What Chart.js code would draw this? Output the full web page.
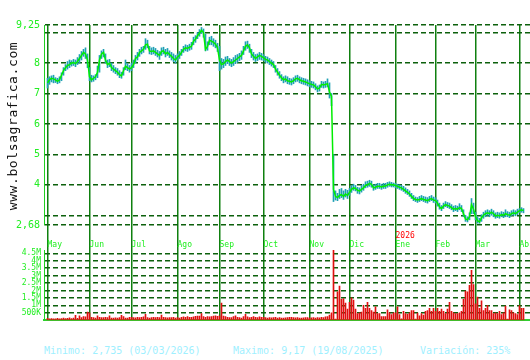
<!DOCTYPE html>
<html>
<head>
<meta charset="utf-8">
<script src="https://cdn.jsdelivr.net/npm/chart.js@4.4.1/dist/chart.umd.min.js"></script>
<style>
  body { margin: 0; background: #fff; }
  #wrap { position: relative; width: 530px; height: 360px; overflow: hidden; font-family: 'DejaVu Sans Mono', monospace; }
  canvas { position: absolute; left: 0; }
  #price { top: 0; }
  #volume { top: 240px; }
  #site { position: absolute; left: -73px; top: 118px; width: 172px; height: 16px; line-height: 16px;
          text-align: center; font-size: 13px; letter-spacing: 0.6px; color: #111;
          transform: rotate(-90deg); white-space: nowrap; }
  .foot { position: absolute; top: 345px; font-size: 10px; color: #9ff0ff; white-space: nowrap; }
</style>
</head>
<body>
<div id="wrap">
  <canvas id="price" width="530" height="250"></canvas>
  <canvas id="volume" width="530" height="88"></canvas>
  <div id="site">www.bolsagrafica.com</div>
  <div class="foot" style="left:44px">Minimo: 2,735 (03/03/2026)</div>
  <div class="foot" style="left:233px">Maximo: 9,17 (19/08/2025)</div>
  <div class="foot" style="left:420px">Variación: 235%</div>
</div>
<script>
// month names and the index of the first session of each month
const monthNames = ['May', 'Jun', 'Jul', 'Ago', 'Sep', 'Oct', 'Nov', 'Dic', 'Ene', 'Feb', 'Mar', 'Abr'];
const monthStart = [0, 21, 42, 65, 86, 108, 131, 151, 174, 194, 214, 236];
const yearLabels = ['2026'];
const yearStart = [174];

// daily close / high / low (one value per session)
const close = [
    7.35,7.45,7.50,7.48,7.45,7.40,7.45,7.60,7.75,7.85,7.92,7.95,8.00,8.02,7.98,8.05,8.15,8.25,8.35,8.30,8.10, // May
    7.55,7.45,7.50,7.55,7.70,8.10,8.30,8.35,8.10,7.95,8.00,7.85,7.80,7.75,7.70,7.62,7.58,7.75,7.90,7.85,7.80, // Jun
    7.85,7.95,8.15,8.20,8.35,8.40,8.45,8.60,8.62,8.40,8.38,8.40,8.35,8.30,8.25,8.38,8.40,8.30,8.35,8.28,8.22,8.15,8.10, // Jul
    8.20,8.25,8.35,8.45,8.50,8.48,8.52,8.55,8.72,8.78,8.90,8.98,9.08,9.00,8.45,8.55,8.75,8.72,8.68,8.62,8.50, // Ago
    8.10,7.95,7.98,8.05,8.10,8.05,8.00,8.05,8.10,8.15,8.20,8.25,8.40,8.55,8.60,8.50,8.30,8.22,8.15,8.20,8.25,8.22, // Sep
    8.18,8.12,8.10,8.05,8.00,7.95,7.80,7.70,7.60,7.52,7.45,7.48,7.42,7.40,7.38,7.42,7.48,7.50,7.45,7.42,7.40,7.38,7.35, // Oct
    7.32,7.30,7.28,7.22,7.15,7.18,7.30,7.28,7.30,7.32,7.05,6.90,3.85,3.62,3.58,3.65,3.68,3.62,3.70,3.65, // Nov
    3.75,3.85,3.90,3.88,3.82,3.80,3.85,3.90,3.98,4.00,4.05,4.02,3.90,3.92,3.95,3.95,3.93,3.95,3.96,4.00,4.02,4.00,4.00, // Dic
    3.98,3.95,3.92,3.90,3.85,3.80,3.75,3.70,3.62,3.55,3.52,3.50,3.52,3.55,3.52,3.50,3.48,3.52,3.55,3.50, // Ene
    3.48,3.40,3.28,3.22,3.30,3.35,3.32,3.30,3.25,3.20,3.22,3.20,3.25,3.22,3.05,2.88,2.85,2.95,3.35,3.20, // Feb
    2.95,2.82,2.78,2.92,3.00,3.05,3.08,3.05,3.10,3.05,2.98,3.00,2.98,3.02,3.00,3.05,3.02,3.00,3.05,3.08,3.05,3.10, // Mar
    3.15,3.18,3.15 // Abr
];
const high = [
    7.50,7.55,7.58,7.60,7.52,7.50,7.55,7.68,7.85,7.95,8.05,8.10,8.08,8.12,8.10,8.18,8.28,8.38,8.45,8.50,8.30,
    7.85,7.60,7.58,7.62,7.90,8.25,8.40,8.45,8.30,8.10,8.12,8.00,7.92,7.85,7.82,7.75,7.70,7.85,8.10,7.98,7.92,
    8.00,8.10,8.25,8.35,8.45,8.52,8.55,8.80,8.75,8.55,8.50,8.52,8.48,8.42,8.38,8.50,8.52,8.45,8.48,8.40,8.35,8.30,8.25,
    8.30,8.38,8.45,8.55,8.60,8.58,8.62,8.68,8.85,8.90,9.00,9.10,9.17,9.12,8.95,8.70,8.85,8.88,8.80,8.75,8.65,
    8.55,8.15,8.12,8.20,8.22,8.15,8.12,8.18,8.25,8.28,8.32,8.40,8.55,8.70,8.72,8.62,8.45,8.35,8.28,8.30,8.35,8.32,
    8.28,8.22,8.20,8.15,8.10,8.05,7.92,7.82,7.72,7.62,7.55,7.58,7.55,7.50,7.48,7.52,7.58,7.60,7.55,7.52,7.50,7.48,7.45,
    7.42,7.40,7.38,7.32,7.25,7.28,7.40,7.38,7.40,7.48,7.35,7.00,5.00,3.80,3.72,3.85,3.88,3.80,3.85,3.82,
    3.88,3.98,4.02,3.98,3.92,3.90,3.98,4.02,4.10,4.12,4.15,4.12,4.00,4.02,4.05,4.05,4.02,4.05,4.05,4.08,4.10,4.08,4.06,
    4.05,4.02,4.00,3.98,3.95,3.90,3.85,3.80,3.72,3.65,3.60,3.58,3.62,3.65,3.62,3.60,3.58,3.62,3.65,3.60,
    3.58,3.50,3.40,3.32,3.40,3.45,3.42,3.40,3.35,3.30,3.32,3.30,3.38,3.32,3.18,3.00,2.95,3.08,3.55,3.40,
    3.10,2.95,2.90,3.02,3.10,3.15,3.18,3.15,3.20,3.15,3.08,3.10,3.08,3.12,3.10,3.18,3.12,3.10,3.15,3.18,3.15,3.20,
    3.22,3.25,3.22
];
const low = [
    7.18,7.30,7.38,7.35,7.36,7.32,7.35,7.42,7.60,7.75,7.80,7.85,7.90,7.92,7.88,7.95,8.00,8.10,8.22,8.15,7.85,
    7.42,7.38,7.40,7.45,7.52,7.70,8.15,8.20,8.00,7.85,7.88,7.75,7.70,7.65,7.60,7.52,7.50,7.60,7.78,7.75,7.70,
    7.75,7.85,8.00,8.10,8.22,8.30,8.35,8.45,8.50,8.30,8.28,8.30,8.25,8.20,8.12,8.25,8.30,8.20,8.25,8.18,8.10,8.05,8.00,
    8.10,8.15,8.25,8.35,8.40,8.38,8.42,8.45,8.60,8.68,8.80,8.88,8.98,8.85,8.40,8.42,8.60,8.60,8.55,8.50,8.38,
    7.75,7.80,7.85,7.92,7.98,7.92,7.88,7.92,7.98,8.02,8.08,8.12,8.28,8.42,8.48,8.35,8.18,8.10,8.05,8.08,8.12,8.10,
    8.08,8.02,8.00,7.95,7.90,7.85,7.70,7.60,7.50,7.42,7.35,7.38,7.32,7.30,7.28,7.32,7.38,7.40,7.35,7.32,7.30,7.28,7.25,
    7.22,7.20,7.18,7.12,7.05,7.08,7.20,7.18,7.20,7.22,6.85,6.60,3.45,3.50,3.48,3.55,3.58,3.52,3.60,3.55,
    3.65,3.75,3.82,3.80,3.72,3.70,3.76,3.82,3.90,3.92,3.95,3.92,3.82,3.85,3.88,3.88,3.85,3.88,3.88,3.92,3.95,3.93,3.93,
    3.90,3.88,3.85,3.82,3.78,3.72,3.68,3.62,3.55,3.48,3.45,3.42,3.45,3.48,3.45,3.42,3.40,3.45,3.48,3.42,
    3.40,3.30,3.20,3.15,3.22,3.28,3.25,3.22,3.18,3.12,3.15,3.12,3.18,3.12,2.95,2.80,2.78,2.85,3.05,3.05,
    2.85,2.74,2.735,2.80,2.90,2.95,3.00,2.95,3.00,2.95,2.90,2.92,2.90,2.95,2.92,2.95,2.95,2.92,2.98,3.00,2.98,3.02,
    3.08,3.10,3.08
];
// volume in thousands of shares
const volume = [
    120,100,110,90,100,130,100,110,150,110,120,160,110,150,330,130,300,180,250,230,550,
    500,200,180,150,300,200,180,170,200,180,300,150,140,160,150,170,330,250,150,140,200,
    200,180,160,200,180,190,220,400,180,150,170,200,180,200,180,350,200,170,160,180,170,200,150,
    180,150,200,220,200,250,200,190,230,260,270,280,450,250,200,250,230,250,280,300,260,
    300,1150,280,250,200,180,170,250,300,200,180,150,250,400,220,180,200,250,200,180,230,200,
    200,180,150,170,160,180,200,150,170,140,150,160,180,200,190,170,160,180,150,140,160,170,180,
    150,160,170,150,180,160,200,180,220,250,350,500,4750,80,1900,2300,1400,1450,1150,750,
    1200,1500,1350,750,450,500,550,1000,800,1200,800,650,550,900,450,450,250,250,250,700,500,380,500,
    500,900,380,100,600,450,400,500,650,650,80,480,300,450,350,600,650,800,600,800,
    600,800,600,750,600,450,750,1200,600,500,450,450,500,600,1400,1950,1900,2350,3350,2400,
    1100,1550,800,1300,650,800,1000,650,650,450,500,450,600,380,500,950,80,700,650,500,450,380,
    980,800,800
];

const priceTicks = [2.68, 3, 4, 5, 6, 7, 8, 9, 9.25];
const priceTickLabels = ['2,68', '', '4', '5', '6', '7', '8', '', '9,25'];
const volumeTicks = [500, 1000, 1500, 2000, 2500, 3000, 3500, 4000, 4500];
const volumeTickLabels = ['500K', '1M', '1.5M', '2M', '2.5M', '3M', '3.5M', '4M', '4.5M'];

Chart.defaults.font.family = "'DejaVu Sans Mono', monospace";
Chart.defaults.animation = false;

function monthAxis(showLabels) {
    return {
        type: 'linear',
        min: -1.75,
        max: 241.25,
        offset: false,
        afterBuildTicks: s => { s.ticks = monthStart.map(v => ({ value: v })); },
        afterFit: s => { s.paddingLeft = 0; s.paddingRight = 0; s.height = showLabels ? 25 : 0; },
        grid: { offset: false, color: '#0f800f', lineWidth: 1.5, drawTicks: showLabels, tickLength: 25 },
        border: { display: false },
        ticks: {
            display: showLabels, autoSkip: false, maxRotation: 0, align: 'start', padding: -10,
            color: '#22ee22', font: { size: 8 },
            callback: (v, i) => monthNames[i]
        }
    };
}

const yearPlugin = {
    id: 'year',
    afterDraw(chart) {
        const ctx = chart.ctx;
        ctx.save();
        ctx.fillStyle = '#ff0000';
        ctx.font = "8px 'DejaVu Sans Mono'";
        ctx.textBaseline = 'middle';
        yearLabels.forEach((t, k) => {
            ctx.fillText(t, chart.scales.x.getPixelForValue(yearStart[k]), 236);
        });
        ctx.restore();
    }
};

new Chart(document.getElementById('price'), {
    type: 'bar',
    data: {
        datasets: [
            {
                type: 'line',
                data: close.map((c, i) => ({ x: i, y: c })),
                borderColor: '#00ee00',
                borderWidth: 1.5,
                pointRadius: 0,
                order: 0
            },
            {
                type: 'bar',
                data: close.map((c, i) => ({ x: i, y: [low[i], high[i]] })),
                backgroundColor: '#1fa0b4',
                barThickness: 1,
                order: 1
            }
        ]
    },
    options: {
        responsive: false,
        layout: { padding: { top: 25, left: 0, right: 0, bottom: 0 } },
        plugins: { legend: { display: false }, tooltip: { enabled: false } },
        scales: {
            x: monthAxis(true),
            y: {
                min: 2.68,
                max: 9.25,
                afterBuildTicks: s => { s.ticks = priceTicks.map(v => ({ value: v })); },
                afterFit: s => { s.width = 44; },
                grid: { color: '#0c600c', lineWidth: 1.5, drawTicks: false },
                border: { display: true, color: '#20d020', width: 1, dash: [5, 3] },
                ticks: { autoSkip: false, color: '#22ee22', padding: 4, font: { size: 10 }, callback: (v, i) => priceTickLabels[i] }
            }
        }
    },
    plugins: [yearPlugin]
});

new Chart(document.getElementById('volume'), {
    type: 'bar',
    data: {
        datasets: [{
            data: volume.map((v, i) => ({ x: i, y: v })),
            backgroundColor: '#e01010',
            barThickness: 1
        }]
    },
    options: {
        responsive: false,
        layout: { padding: { top: 10, left: 0, right: 0, bottom: 2 } },
        plugins: { legend: { display: false }, tooltip: { enabled: false } },
        scales: {
            x: Object.assign(monthAxis(false), { border: { display: true, color: '#30d030', width: 2 } }),
            y: {
                min: 0,
                max: 4720,
                afterBuildTicks: s => { s.ticks = volumeTicks.map(v => ({ value: v })); },
                afterFit: s => { s.width = 44; },
                grid: { color: '#0c600c', lineWidth: 1.5, drawTicks: false },
                border: { display: true, color: '#20d020', width: 1, dash: [5, 3] },
                ticks: { autoSkip: false, color: '#22ee22', padding: 3, font: { size: 8 }, callback: (v, i) => volumeTickLabels[i] }
            }
        }
    }
});
</script>
</body>
</html>
